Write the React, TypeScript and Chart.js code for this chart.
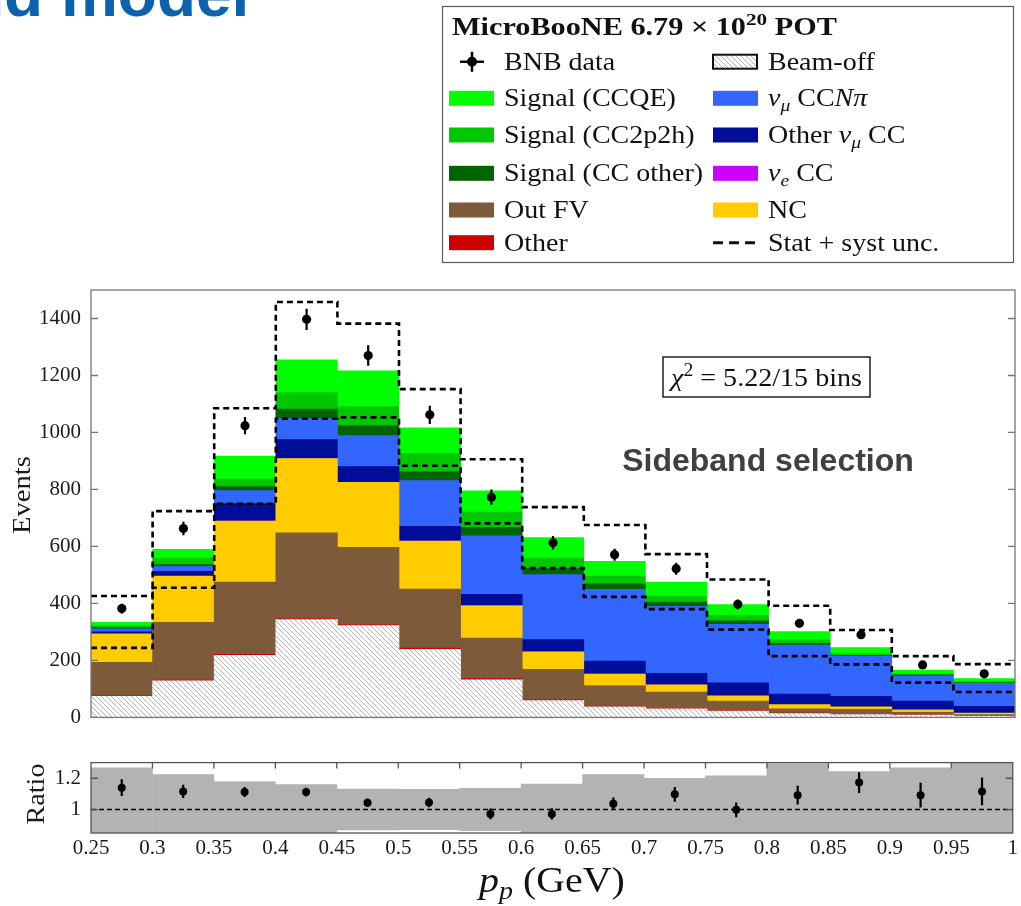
import React, { useEffect, useRef } from 'react';
import { Chart, registerables } from 'chart.js';

Chart.register(...registerables);

const SERIF = '"Liberation Serif", "Times New Roman", serif';
const SANS = '"Liberation Sans", Arial, sans-serif';

// Proton momentum bins (GeV)
const binEdges = [0.25, 0.3, 0.35, 0.4, 0.45, 0.5, 0.55, 0.6, 0.65, 0.7, 0.75, 0.8, 0.85, 0.9, 0.95, 1.0];
const xTickLabels = ['0.25', '0.3', '0.35', '0.4', '0.45', '0.5', '0.55', '0.6', '0.65', '0.7', '0.75', '0.8', '0.85', '0.9', '0.95', '1'];
const yTickValues = [0, 200, 400, 600, 800, 1000, 1200, 1400];
const ratioTickValues = [1, 1.2];
const ratioTickLabels = ['1', '1.2'];

// Stacked prediction, events per bin (bottom to top)
const beamOff = [74, 128, 218, 343, 322, 239, 132, 59, 37, 30, 22, 13, 10, 8, 5];
const otherBkg = [3, 3, 3, 4, 4, 4, 4, 3, 3, 2, 2, 2, 1, 1, 1];
const outFV = [116, 203, 254, 301, 271, 207, 142, 107, 72, 57, 33, 15, 17, 9, 4];
const ncEvents = [100, 162, 214, 260, 228, 169, 114, 61, 40, 25, 19, 15, 9, 9, 5];
const nueCC = [0, 0, 1, 1, 1, 1, 1, 1, 1, 1, 0, 0, 0, 0, 0];
const otherNumuCC = [7, 17, 60, 66, 54, 51, 39, 42, 45, 40, 45, 37, 37, 30, 24];
const numuCCNpi = [11, 17, 46, 75, 109, 160, 205, 228, 251, 235, 206, 172, 140, 89, 81];
const sigCCOther = [5, 6, 14, 32, 35, 32, 30, 21, 21, 15, 12, 6, 4, 3, 2];
const sigCC2p2h = [6, 23, 26, 58, 67, 64, 54, 37, 26, 21, 19, 12, 6, 3, 4];
const sigCCQE = [12, 31, 81, 115, 125, 89, 74, 72, 52, 49, 38, 29, 21, 14, 10];

// BNB data and total uncertainty envelope
const bnbData = [382, 663, 1024, 1397, 1270, 1062, 773, 613, 571, 522, 397, 330, 290, 184, 153];
const bnbErr = [17, 24, 30, 37, 36, 32, 27, 24, 21, 21, 17, 14, 14, 12, 11];
const uncUpper = [426, 724, 1085, 1458, 1382, 1152, 906, 738, 675, 573, 484, 392, 307, 215, 187];
const uncLower = [244, 455, 750, 1048, 1053, 883, 681, 524, 423, 380, 308, 215, 186, 122, 89];

// Data / prediction ratio
const ratioVals = [1.14, 1.116, 1.112, 1.112, 1.043, 1.045, 0.972, 0.972, 1.037, 1.097, 0.998, 1.092, 1.172, 1.092, 1.116];
const ratioErr = [0.054, 0.042, 0.032, 0.028, 0.027, 0.03, 0.034, 0.036, 0.04, 0.047, 0.047, 0.06, 0.066, 0.079, 0.088];
const bandUpper = [1.266, 1.223, 1.178, 1.159, 1.131, 1.129, 1.135, 1.163, 1.223, 1.2, 1.215, 1.294, 1.243, 1.266, 1.32];
const bandLower = [0.734, 0.777, 0.822, 0.841, 0.869, 0.871, 0.865, 0.837, 0.777, 0.8, 0.785, 0.706, 0.757, 0.734, 0.68];

const COL = {
  other: '#cc0000',
  outFV: '#7d5a3a',
  nc: '#ffcc00',
  nue: '#cc00ff',
  otherNumu: '#000d99',
  ccnpi: '#3366ff',
  ccOther: '#006400',
  cc2p2h: '#00c800',
  ccqe: '#00ff00',
};

const binCenters = binEdges.slice(0, -1).map((e, i) => (e + binEdges[i + 1]) / 2);

type Run = { t: string; i?: boolean; sub?: boolean; sup?: boolean };

const pts = (vals: number[]) => binCenters.map((x, i) => ({ x, y: vals[i] }));
const steps = (vals: number[]) => [
  ...binEdges.slice(0, -1).map((x, i) => ({ x, y: vals[i] })),
  { x: binEdges[binEdges.length - 1], y: vals[vals.length - 1] },
];

function runFont(r: Run, size: number, bold: boolean) {
  const s = r.sub || r.sup ? size * 0.7 : size;
  return `${r.i ? 'italic ' : ''}${bold ? 'bold ' : ''}${s}px ${SERIF}`;
}

function richWidth(ctx: CanvasRenderingContext2D, runs: Run[], size: number, sx: number, bold = false) {
  let w = 0;
  for (const r of runs) {
    ctx.font = runFont(r, size, bold);
    w += ctx.measureText(r.t).width * sx;
  }
  return w;
}

function drawRich(ctx: CanvasRenderingContext2D, runs: Run[], x: number, y: number, size: number, sx: number, bold = false) {
  let cx = x;
  for (const r of runs) {
    ctx.font = runFont(r, size, bold);
    const dy = r.sub ? size * 0.2 : r.sup ? -size * 0.4 : 0;
    ctx.save();
    ctx.translate(cx, y + dy);
    ctx.scale(sx, 1);
    ctx.textAlign = 'left';
    ctx.textBaseline = 'alphabetic';
    ctx.fillText(r.t, 0, 0);
    ctx.restore();
    cx += ctx.measureText(r.t).width * sx;
  }
  return cx;
}

function drawRotated(ctx: CanvasRenderingContext2D, text: string, x: number, y: number, size: number, sx: number) {
  ctx.save();
  ctx.translate(x, y);
  ctx.rotate(-Math.PI / 2);
  ctx.scale(sx, 1);
  ctx.font = `${size}px ${SERIF}`;
  ctx.fillStyle = '#1a1a1a';
  ctx.textAlign = 'center';
  ctx.textBaseline = 'middle';
  ctx.fillText(text, 0, 0);
  ctx.restore();
}

function makeHatch(): CanvasPattern | string {
  const c = document.createElement('canvas');
  c.width = 5;
  c.height = 5;
  const g = c.getContext('2d');
  if (!g) return '#e6e6e6';
  g.fillStyle = '#ffffff';
  g.fillRect(0, 0, 5, 5);
  g.strokeStyle = '#a6a6a6';
  g.lineWidth = 0.85;
  g.beginPath();
  g.moveTo(0, 0); g.lineTo(5, 5);
  g.moveTo(-1, 4); g.lineTo(1, 6);
  g.moveTo(4, -1); g.lineTo(6, 1);
  g.stroke();
  return g.createPattern(c, 'repeat') || '#e6e6e6';
}

// Vertical error bars for any dataset carrying an `errors` array
const errorBarPlugin = {
  id: 'errorBars',
  afterDatasetsDraw(chart: any) {
    const ctx = chart.ctx as CanvasRenderingContext2D;
    const area = chart.chartArea;
    chart.data.datasets.forEach((ds: any, di: number) => {
      if (!ds.errors) return;
      const meta = chart.getDatasetMeta(di);
      const ys = chart.scales[meta.yAxisID];
      ctx.save();
      ctx.beginPath();
      ctx.rect(area.left, area.top, area.right - area.left, area.bottom - area.top);
      ctx.clip();
      ctx.strokeStyle = '#000';
      ctx.lineWidth = 2.2;
      ctx.beginPath();
      meta.data.forEach((el: any, i: number) => {
        const v = ds.data[i].y;
        ctx.moveTo(el.x, ys.getPixelForValue(v + ds.errors[i]));
        ctx.lineTo(el.x, ys.getPixelForValue(v - ds.errors[i]));
      });
      ctx.stroke();
      ctx.restore();
    });
  },
};

const leftLegend: { kind: string; color?: string; runs: Run[] }[] = [
  { kind: 'marker', runs: [{ t: 'BNB data' }] },
  { kind: 'fill', color: COL.ccqe, runs: [{ t: 'Signal (CCQE)' }] },
  { kind: 'fill', color: COL.cc2p2h, runs: [{ t: 'Signal (CC2p2h)' }] },
  { kind: 'fill', color: COL.ccOther, runs: [{ t: 'Signal (CC other)' }] },
  { kind: 'fill', color: COL.outFV, runs: [{ t: 'Out FV' }] },
  { kind: 'fill', color: COL.other, runs: [{ t: 'Other' }] },
];
const rightLegend: { kind: string; color?: string; runs: Run[] }[] = [
  { kind: 'hatch', runs: [{ t: 'Beam-off' }] },
  { kind: 'fill', color: COL.ccnpi, runs: [{ t: 'ν', i: true }, { t: 'μ', i: true, sub: true }, { t: ' CC' }, { t: 'N', i: true }, { t: 'π', i: true }] },
  { kind: 'fill', color: COL.otherNumu, runs: [{ t: 'Other ' }, { t: 'ν', i: true }, { t: 'μ', i: true, sub: true }, { t: ' CC' }] },
  { kind: 'fill', color: COL.nue, runs: [{ t: 'ν', i: true }, { t: 'e', i: true, sub: true }, { t: ' CC' }] },
  { kind: 'fill', color: COL.nc, runs: [{ t: 'NC' }] },
  { kind: 'dash', runs: [{ t: 'Stat + syst unc.' }] },
];
const legendRows = [61.7, 98.3, 135, 173.3, 210, 242.7];

export default function App() {
  const mainRef = useRef<HTMLCanvasElement>(null);
  const ratioRef = useRef<HTMLCanvasElement>(null);

  useEffect(() => {
    if (!mainRef.current || !ratioRef.current) return;
    const hatch = makeHatch();

    const stackDefs = [
      { label: 'Beam-off', vals: beamOff, color: hatch, inflate: 'auto' },
      { label: 'Other', vals: otherBkg, color: COL.other, inflate: 'auto' },
      { label: 'Out FV', vals: outFV, color: COL.outFV, inflate: 'auto' },
      { label: 'NC', vals: ncEvents, color: COL.nc, inflate: 'auto' },
      { label: 'νe CC', vals: nueCC, color: COL.nue, inflate: 0 },
      { label: 'Other νμ CC', vals: otherNumuCC, color: COL.otherNumu, inflate: 'auto' },
      { label: 'νμ CCNπ', vals: numuCCNpi, color: COL.ccnpi, inflate: 'auto' },
      { label: 'Signal (CC other)', vals: sigCCOther, color: COL.ccOther, inflate: 'auto' },
      { label: 'Signal (CC2p2h)', vals: sigCC2p2h, color: COL.cc2p2h, inflate: 'auto' },
      { label: 'Signal (CCQE)', vals: sigCCQE, color: COL.ccqe, inflate: 'auto' },
    ];

    const mainOverlay = {
      id: 'mainOverlay',
      afterDatasetsDraw(chart: any) {
        const ctx = chart.ctx as CanvasRenderingContext2D;
        const { left, right, top, bottom } = chart.chartArea;
        const ys = chart.scales.y;
        ctx.save();
        ctx.strokeStyle = '#767676';
        ctx.lineWidth = 1.3;
        ctx.beginPath();
        for (const v of yTickValues) {
          const py = ys.getPixelForValue(v);
          ctx.moveTo(left, py); ctx.lineTo(left + 7, py);
          ctx.moveTo(right, py); ctx.lineTo(right - 7, py);
        }
        ctx.stroke();
        ctx.strokeRect(left, top, right - left, bottom - top);

        // chi-square box
        const chiRuns: Run[] = [{ t: 'χ', i: true }, { t: '2', sup: true }, { t: ' = 5.22/15 bins' }];
        const bx0 = 663, bx1 = 870, by0 = 357, by1 = 397;
        ctx.fillStyle = '#fff';
        ctx.fillRect(bx0, by0, bx1 - bx0, by1 - by0);
        ctx.strokeStyle = '#111';
        ctx.lineWidth = 1.4;
        ctx.strokeRect(bx0, by0, bx1 - bx0, by1 - by0);
        ctx.fillStyle = '#111';
        const cw = richWidth(ctx, chiRuns, 26, 1.08);
        drawRich(ctx, chiRuns, (bx0 + bx1) / 2 - cw / 2, 386, 26, 1.08);

        ctx.font = `bold 32px ${SANS}`;
        ctx.fillStyle = '#404040';
        ctx.textAlign = 'center';
        ctx.textBaseline = 'alphabetic';
        ctx.fillText('Sideband selection', 768, 471);
        ctx.restore();
      },
      afterDraw(chart: any) {
        const ctx = chart.ctx as CanvasRenderingContext2D;
        ctx.save();
        // slide heading, partially outside the page
        ctx.font = `bold 64px ${SANS}`;
        ctx.fillStyle = '#0b62ad';
        ctx.textAlign = 'left';
        ctx.textBaseline = 'alphabetic';
        const lead = ctx.measureText('an').width;
        ctx.fillText('and model', 4 - lead, 16);

        drawRotated(ctx, 'Events', 23, 495, 26, 1.1);

        // legend box
        ctx.fillStyle = '#fff';
        ctx.fillRect(442.5, 6.5, 571, 256);
        ctx.strokeStyle = '#5a5a5a';
        ctx.lineWidth = 1.2;
        ctx.strokeRect(442.5, 6.5, 571, 256);
        ctx.fillStyle = '#111';
        drawRich(ctx, [{ t: 'MicroBooNE 6.79 × 10' }, { t: '20', sup: true }, { t: ' POT' }], 452, 35, 25, 1.21, true);

        const drawEntry = (e: { kind: string; color?: string; runs: Run[] }, sx0: number, tx: number, cy: number) => {
          if (e.kind === 'fill') {
            ctx.fillStyle = e.color as string;
            ctx.fillRect(sx0, cy - 7.5, 45, 15);
          } else if (e.kind === 'hatch') {
            ctx.fillStyle = hatch as any;
            ctx.fillRect(sx0, cy - 7, 44, 14);
            ctx.strokeStyle = '#111';
            ctx.lineWidth = 2;
            ctx.strokeRect(sx0, cy - 7, 44, 14);
          } else if (e.kind === 'dash') {
            ctx.strokeStyle = '#111';
            ctx.lineWidth = 3;
            ctx.setLineDash([10, 6]);
            ctx.beginPath();
            ctx.moveTo(sx0, cy); ctx.lineTo(sx0 + 44, cy);
            ctx.stroke();
            ctx.setLineDash([]);
          } else if (e.kind === 'marker') {
            const mx = sx0 + 23;
            ctx.strokeStyle = '#000';
            ctx.lineWidth = 2.5;
            ctx.beginPath();
            ctx.moveTo(mx - 12, cy); ctx.lineTo(mx + 12, cy);
            ctx.moveTo(mx, cy - 10); ctx.lineTo(mx, cy + 10);
            ctx.stroke();
            ctx.fillStyle = '#000';
            ctx.beginPath();
            ctx.arc(mx, cy, 5, 0, Math.PI * 2);
            ctx.fill();
          }
          ctx.fillStyle = '#111';
          drawRich(ctx, e.runs, tx, cy + 8, 25, 1.12);
        };
        leftLegend.forEach((e, i) => drawEntry(e, 449, 504, legendRows[i]));
        rightLegend.forEach((e, i) => drawEntry(e, 713, 768, legendRows[i]));
        ctx.restore();
      },
    };

    const main = new Chart(mainRef.current, {
      type: 'bar',
      data: {
        datasets: [
          {
            type: 'line', label: 'BNB data', data: pts(bnbData), showLine: false,
            pointRadius: 4.6, pointBackgroundColor: '#000', pointBorderColor: '#000', pointBorderWidth: 0,
            stack: 'data', order: 0, errors: bnbErr,
          } as any,
          {
            type: 'line', label: 'Stat + syst unc.', data: steps(uncUpper), stepped: 'before',
            borderColor: '#000', borderWidth: 2.6, borderDash: [6, 4], pointRadius: 0, fill: false,
            stack: 'uncUp', order: 1,
          } as any,
          {
            type: 'line', label: 'Stat + syst unc. (low)', data: steps(uncLower), stepped: 'before',
            borderColor: '#000', borderWidth: 2.6, borderDash: [6, 4], pointRadius: 0, fill: false,
            stack: 'uncLow', order: 1,
          } as any,
          ...stackDefs.map((d) => ({
            type: 'bar', label: d.label, data: pts(d.vals), backgroundColor: d.color,
            borderWidth: 0, barPercentage: 1, categoryPercentage: 1, stack: 'mc', order: 2,
            inflateAmount: d.inflate,
          } as any)),
        ],
      },
      options: {
        animation: false,
        responsive: false,
        maintainAspectRatio: false,
        events: [],
        layout: { padding: { top: 290, right: 6, left: 0, bottom: 0 } },
        plugins: { legend: { display: false }, tooltip: { enabled: false } },
        scales: {
          x: {
            type: 'linear', min: binEdges[0], max: binEdges[binEdges.length - 1], offset: false, stacked: true,
            afterBuildTicks: (s: any) => { s.ticks = binEdges.map((value) => ({ value })); },
            ticks: { display: false },
            grid: { display: false, drawTicks: false, offset: false },
            border: { display: false },
            afterFit: (s: any) => { s.height = 17; },
          },
          y: {
            type: 'linear', min: 0, max: 1500, stacked: true,
            afterBuildTicks: (s: any) => { s.ticks = yTickValues.map((value) => ({ value })); },
            ticks: { padding: 10, color: '#1a1a1a', font: { family: SERIF, size: 21 }, callback: (v: any) => String(v) },
            grid: { display: false, drawTicks: false },
            border: { display: false },
            afterFit: (s: any) => { s.width = 91; },
          },
        },
      } as any,
      plugins: [errorBarPlugin, mainOverlay],
    });

    const ratioOverlay = {
      id: 'ratioOverlay',
      afterDatasetsDraw(chart: any) {
        const ctx = chart.ctx as CanvasRenderingContext2D;
        const { left, right, top, bottom } = chart.chartArea;
        const xs = chart.scales.x;
        const ys = chart.scales.y;
        ctx.save();
        ctx.strokeStyle = '#555';
        ctx.lineWidth = 1.3;
        ctx.beginPath();
        for (const v of binEdges.slice(1, -1)) {
          const px = xs.getPixelForValue(v);
          ctx.moveTo(px, top); ctx.lineTo(px, top + 6);
        }
        for (const v of ratioTickValues) {
          const py = ys.getPixelForValue(v);
          ctx.moveTo(left, py); ctx.lineTo(left + 7, py);
          ctx.moveTo(right, py); ctx.lineTo(right - 7, py);
        }
        ctx.stroke();
        ctx.strokeRect(left, top, right - left, bottom - top);
        ctx.restore();
      },
      afterDraw(chart: any) {
        const ctx = chart.ctx as CanvasRenderingContext2D;
        ctx.save();
        drawRotated(ctx, 'Ratio', 37.5, 54, 26, 1.08);
        const runs: Run[] = [{ t: 'p', i: true }, { t: 'p', i: true, sub: true }, { t: ' (GeV)' }];
        ctx.fillStyle = '#111';
        const w = richWidth(ctx, runs, 35, 1.14);
        drawRich(ctx, runs, 552 - w / 2, 152, 35, 1.14);
        ctx.restore();
      },
    };

    const ratio = new Chart(ratioRef.current, {
      type: 'bar',
      data: {
        datasets: [
          {
            type: 'line', label: 'Data / MC', data: pts(ratioVals), showLine: false,
            pointRadius: 4, pointBackgroundColor: '#000', pointBorderColor: '#000', pointBorderWidth: 0,
            order: 0, errors: ratioErr,
          } as any,
          {
            type: 'line', label: 'Unity', data: [{ x: binEdges[0], y: 1 }, { x: binEdges[binEdges.length - 1], y: 1 }],
            borderColor: '#000', borderWidth: 1.6, borderDash: [5, 3], pointRadius: 0, order: 1,
          } as any,
          {
            type: 'bar', label: 'Uncertainty',
            data: binCenters.map((x, i) => ({ x, y: [bandLower[i], bandUpper[i]] })),
            backgroundColor: '#b3b3b3', borderWidth: 0, barPercentage: 1, categoryPercentage: 1, order: 2,
          } as any,
        ],
      },
      options: {
        animation: false,
        responsive: false,
        maintainAspectRatio: false,
        events: [],
        layout: { padding: { top: 14, right: 6, left: 0, bottom: 0 } },
        plugins: { legend: { display: false }, tooltip: { enabled: false } },
        scales: {
          x: {
            type: 'linear', min: binEdges[0], max: binEdges[binEdges.length - 1], offset: false,
            afterBuildTicks: (s: any) => { s.ticks = binEdges.map((value) => ({ value })); },
            ticks: {
              autoSkip: false, maxRotation: 0, minRotation: 0, padding: 3, color: '#1a1a1a',
              font: { family: SERIF, size: 21 }, callback: (_v: any, i: number) => xTickLabels[i],
            },
            grid: { display: false, drawTicks: false, offset: false },
            border: { display: false },
            afterFit: (s: any) => { s.height = 73; },
          },
          y: {
            type: 'linear', min: 0.85, max: 1.3,
            afterBuildTicks: (s: any) => { s.ticks = ratioTickValues.map((value) => ({ value })); },
            ticks: { padding: 10, color: '#1a1a1a', font: { family: SERIF, size: 21 }, callback: (_v: any, i: number) => ratioTickLabels[i] },
            grid: { display: false, drawTicks: false },
            border: { display: false },
            afterFit: (s: any) => { s.width = 91; },
          },
        },
      } as any,
      plugins: [errorBarPlugin, ratioOverlay],
    });

    return () => {
      main.destroy();
      ratio.destroy();
    };
  }, []);

  return (
    <div style={{ position: 'absolute', left: 0, top: 0, width: 1021, height: 906, overflow: 'hidden', background: '#fff' }}>
      <canvas ref={mainRef} width={1021} height={740} style={{ position: 'absolute', left: 0, top: 0, width: 1021, height: 740 }} />
      <canvas ref={ratioRef} width={1021} height={166} style={{ position: 'absolute', left: 0, top: 740, width: 1021, height: 166 }} />
    </div>
  );
}
